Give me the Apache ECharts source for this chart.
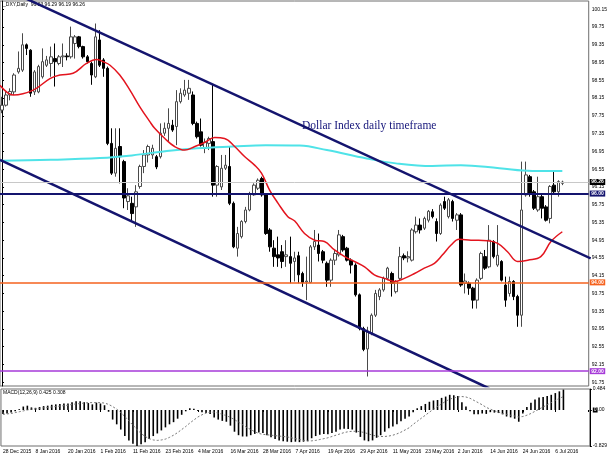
<!DOCTYPE html>
<html><head><meta charset="utf-8">
<script src="https://cdn.jsdelivr.net/npm/echarts@6/dist/echarts.min.js"></script>
<style>html,body{margin:0;padding:0;background:#fff}#c{width:610px;height:457px}</style>
</head><body><div id="c"></div>
<script>
// trading days shown on the chart
const monthDays = [
  ['Dec 2015', [28,29,30,31]],
  ['Jan 2016', [4,5,6,7,8,11,12,13,14,15,18,19,20,21,22,25,26,27,28,29]],
  ['Feb 2016', [1,2,3,4,5,8,9,10,11,12,15,16,17,18,19,22,23,24,25,26,29]],
  ['Mar 2016', [1,2,3,4,7,8,9,10,11,14,15,16,17,18,21,22,23,24,25,28,29,30,31]],
  ['Apr 2016', [1,4,5,6,7,8,11,12,13,14,15,18,19,20,21,22,25,26,27,28,29]],
  ['May 2016', [2,3,4,5,6,9,10,11,12,13,16,17,18,19,20,23,24,25,26,27,30,31]],
  ['Jun 2016', [1,2,3,6,7,8,9,10,13,14,15,16,17,20,21,22,23,24,27,28,29,30]],
  ['Jul 2016', [1,4,5,6,7,8]]
];
const emptySlots = 6; // right-hand chart shift

const open = [97.88,97.99,98.22,98.29,98.74,98.78,99.35,99.23,98.29,98.29,
98.63,98.89,98.93,99.04,98.93,99.08,99.10,99.08,99.38,99.53,
99.31,99.08,98.93,98.63,99.46,99.01,98.82,97.13,96.46,97.06,
96.72,95.82,95.78,95.70,96.16,96.61,96.87,96.87,96.83,96.83,
97.36,97.47,97.54,97.51,98.07,98.22,98.26,98.22,97.58,97.39,
97.02,97.13,97.17,96.19,96.15,96.57,96.61,95.78,94.77,95.03,
95.37,95.63,95.97,96.12,96.34,95.97,95.18,94.77,94.62,94.69,
94.58,94.58,94.47,94.60,94.20,94.01,94.00,94.80,94.84,94.69,
94.43,94.05,94.50,94.62,95.03,94.77,94.50,94.39,93.72,92.96,
92.50,92.85,93.26,93.68,93.83,94.09,94.20,93.79,94.09,94.60,
94.55,94.50,95.14,95.29,95.22,95.40,95.59,95.37,95.10,95.82,
95.48,95.82,95.40,95.52,93.98,93.98,93.87,93.60,94.09,94.58,
94.35,94.92,94.39,94.47,93.94,93.75,94.02,93.68,93.26,95.97,
96.38,96.04,95.63,95.93,95.70,95.44,96.19,96.04,96.23];
const high = [98.18,98.30,98.37,98.71,99.20,99.61,99.38,99.25,98.78,98.90,
99.27,99.10,99.31,99.38,99.12,99.38,99.16,99.76,99.57,99.55,
99.33,99.12,98.97,99.83,99.68,99.05,98.86,97.47,97.47,97.47,
96.76,96.12,95.93,96.19,96.65,96.98,97.10,97.10,96.87,97.58,
97.60,97.92,97.66,98.33,98.37,98.56,98.56,98.30,97.62,97.69,
97.24,97.28,98.45,96.64,96.87,96.87,97.06,95.82,95.25,95.40,
95.70,96.04,96.23,96.34,96.38,96.00,95.22,94.95,95.03,94.84,
94.95,95.03,94.69,94.69,94.24,94.58,94.84,95.18,95.10,94.73,
94.47,94.54,94.73,95.18,95.07,94.80,94.54,94.43,93.75,93.00,
93.00,93.30,93.83,93.87,94.13,94.35,94.24,94.05,94.80,94.65,
94.70,95.22,95.48,95.44,95.48,95.63,95.65,95.44,95.78,95.93,
95.90,95.86,95.56,95.56,94.20,94.02,93.90,94.09,94.69,94.73,
95.29,94.95,95.29,94.50,94.13,94.13,94.05,93.72,96.72,96.72,
96.42,96.08,96.38,96.00,95.74,96.19,96.49,96.30,96.29];
const low = [97.81,97.96,98.10,98.22,98.70,98.74,99.12,98.18,98.22,98.26,
98.59,98.85,98.63,98.41,98.89,98.85,99.00,99.04,99.04,99.27,
99.04,98.93,98.45,98.60,98.85,98.63,97.09,96.42,96.38,96.23,
95.67,95.63,95.40,95.25,96.11,96.46,96.70,96.78,96.55,96.79,
97.30,97.17,97.39,97.09,98.03,98.18,98.11,97.54,97.24,97.06,
96.91,96.98,95.93,95.93,96.08,96.53,95.74,94.77,94.58,94.99,
95.33,95.60,95.95,96.08,95.93,95.07,94.69,94.35,94.35,94.32,
94.35,93.98,94.02,93.98,93.90,93.60,93.98,94.73,94.47,94.43,
93.90,93.90,94.39,94.58,94.69,94.47,94.20,93.68,92.92,92.45,
91.88,92.81,93.22,93.60,93.79,94.05,93.68,93.75,94.05,94.50,
94.45,94.47,95.10,95.10,95.18,95.35,95.44,94.92,95.07,95.63,
95.44,95.37,95.18,93.90,93.75,93.72,93.41,93.41,94.05,94.28,
94.32,94.54,94.35,94.02,93.45,93.68,93.60,93.00,93.00,95.93,
95.93,95.63,95.59,95.44,95.37,95.33,96.00,95.93,96.19];
const close = [97.99,98.22,98.30,98.67,98.82,99.35,99.27,98.26,98.74,98.86,
98.97,99.01,99.08,98.97,99.08,99.10,99.08,99.53,99.53,99.31,
99.08,98.97,98.67,99.53,98.89,98.82,97.13,96.46,97.02,96.83,
95.90,95.95,95.55,96.04,96.61,96.87,97.06,97.02,96.60,97.36,
97.47,97.58,97.43,98.07,98.26,98.33,98.37,97.58,97.28,97.09,
97.16,97.24,96.19,96.61,96.57,96.64,95.78,94.80,95.10,95.37,
95.63,96.00,96.19,96.30,95.97,95.10,94.80,94.58,94.55,94.47,
94.62,94.43,94.55,94.17,94.00,94.03,94.80,94.92,94.65,94.50,
94.05,94.50,94.65,95.07,94.73,94.50,94.39,93.72,92.96,92.49,
92.90,93.26,93.75,93.83,94.09,94.32,93.98,94.02,94.58,94.55,
94.58,95.18,95.29,95.18,95.44,95.60,95.48,95.10,95.74,95.67,
95.86,95.44,95.52,93.94,94.03,93.87,93.60,94.05,94.65,94.32,
94.95,94.58,94.61,94.05,93.60,94.02,93.68,93.26,95.63,96.42,
96.00,95.67,95.93,95.67,95.40,96.16,96.04,96.27,96.26];

// MACD main (histogram) and signal (dotted)
const macdMain = [-0.09,-0.08,-0.06,-0.03,0.02,0.08,0.10,0.06,0.05,0.07,
0.09,0.10,0.12,0.13,0.14,0.15,0.15,0.18,0.20,0.20,
0.18,0.16,0.13,0.17,0.15,0.11,-0.04,-0.22,-0.33,-0.45,
-0.60,-0.70,-0.78,-0.829,-0.79,-0.74,-0.67,-0.60,-0.54,-0.47,
-0.40,-0.33,-0.28,-0.20,-0.11,-0.03,0.04,0.03,-0.02,-0.05,
-0.07,-0.09,-0.17,-0.22,-0.25,-0.27,-0.36,-0.50,-0.58,-0.61,
-0.61,-0.58,-0.55,-0.52,-0.53,-0.58,-0.63,-0.67,-0.70,-0.72,
-0.73,-0.74,-0.73,-0.74,-0.73,-0.72,-0.65,-0.60,-0.57,-0.55,
-0.56,-0.53,-0.50,-0.45,-0.43,-0.44,-0.45,-0.52,-0.62,-0.70,
-0.72,-0.70,-0.64,-0.58,-0.50,-0.42,-0.38,-0.33,-0.26,-0.20,
-0.15,-0.05,0.04,0.09,0.14,0.19,0.22,0.23,0.28,0.31,
0.35,0.34,0.32,0.18,0.08,-0.03,-0.10,-0.10,-0.08,-0.09,
-0.05,-0.06,-0.07,-0.10,-0.15,-0.17,-0.20,-0.27,-0.08,0.07,
0.17,0.24,0.29,0.30,0.32,0.35,0.39,0.43,0.47];
const macdSignal = [-0.10,-0.09,-0.08,-0.06,-0.04,-0.02,0.00,0.02,0.03,0.04,
0.05,0.06,0.07,0.08,0.09,0.10,0.11,0.13,0.14,0.15,
0.16,0.17,0.17,0.17,0.17,0.16,0.13,0.08,0.02,-0.06,
-0.15,-0.25,-0.35,-0.45,-0.54,-0.61,-0.66,-0.69,-0.70,-0.69,
-0.67,-0.63,-0.58,-0.52,-0.45,-0.38,-0.30,-0.23,-0.16,-0.11,
-0.07,-0.05,-0.05,-0.07,-0.10,-0.13,-0.17,-0.22,-0.28,-0.34,
-0.40,-0.45,-0.50,-0.54,-0.56,-0.57,-0.58,-0.59,-0.60,-0.61,
-0.62,-0.64,-0.66,-0.68,-0.70,-0.71,-0.71,-0.70,-0.68,-0.66,
-0.64,-0.61,-0.58,-0.55,-0.52,-0.50,-0.49,-0.49,-0.50,-0.52,
-0.55,-0.58,-0.60,-0.61,-0.61,-0.60,-0.58,-0.55,-0.51,-0.46,
-0.41,-0.33,-0.26,-0.19,-0.12,-0.05,0.02,0.08,0.14,0.20,
0.25,0.28,0.30,0.31,0.30,0.27,0.22,0.17,0.12,0.06,
0.02,-0.02,-0.05,-0.08,-0.10,-0.12,-0.14,-0.16,-0.15,-0.12,
-0.08,-0.03,0.02,0.07,0.12,0.17,0.22,0.27,0.308];

// moving averages: [bar index, price]
const maRed = [[-0.5,98.44],[2.8,98.22],[7.7,98.33],[11.8,98.59],[14.3,98.67],[17.5,98.71],[20.8,98.93],[23.3,99.02],[24.9,98.97],[26.6,98.89],[29,98.67],[31.5,98.33],[33.9,97.96],[36.4,97.62],[37.6,97.47],[40.1,97.24],[42.5,97.06],[45,96.98],[47.5,97.06],[49.9,97.15],[52.4,97.26],[54.8,97.24],[57.3,97.06],[59.8,96.83],[62.2,96.64],[63.9,96.46],[65.9,96.08],[68,95.78],[70.4,95.48],[72.1,95.38],[74.5,95.10],[77,94.95],[79.4,94.92],[81.9,94.73],[84.4,94.58],[86.8,94.47],[89.3,94.35],[91.7,94.17],[94.2,94.09],[96.7,94.02],[99.1,94.09],[101.6,94.20],[104,94.32],[106.5,94.43],[108.5,94.62],[110.6,94.84],[112.6,94.97],[115.5,94.95],[119.6,94.94],[122.1,94.88],[124.5,94.69],[127,94.47],[129.5,94.50],[132.7,94.58],[135.2,94.92],[138,95.14]];
const maCyan = [[-0.5,96.74],[12,96.76],[24.1,96.80],[32,96.86],[40.6,96.96],[48,97.02],[56.8,97.06],[65,97.09],[73.3,97.08],[80,96.98],[89.8,96.79],[97,96.68],[106,96.62],[113,96.64],[122.5,96.57],[130.6,96.51],[138,96.51]];

// channel lines: [bar index, price]
const channelUpper = [[0,100.64],[145,94.54]];
const channelLower = [[-0.5,96.76],[120,91.61]];

const levelNavy = 96.00, levelOrange = 94.00, levelPurple = 92.00, bidPrice = 96.26;
const priceTicks = [100.15,99.75,99.35,98.95,98.55,98.15,97.75,97.35,96.95,96.55,96.15,95.75,95.35,94.95,94.55,94.15,93.75,93.35,92.95,92.55,92.15,91.75];
const macdTicks = [0.484, 0, -0.829];

const categories = [];
monthDays.forEach(([m, days]) => days.forEach(d => categories.push(d + ' ' + m)));
for (let k = 0; k < emptySlots; k++) categories.push('');
const candles = open.map((o, i) => [o, close[i], low[i], high[i]]);
const N = categories.length;

const FONT = 'Liberation Sans';
const small = { fontFamily: FONT, fontSize: 5, color: '#000' };

function levelLine(v, color, width, boxColor) {
  return {
    yAxis: v,
    lineStyle: { color: color, width: width, type: 'solid' },
    label: { show: true, position: 'end', distance: 1, formatter: v.toFixed(2),
      color: '#fff', backgroundColor: boxColor, padding: [1, 1.5, 0, 1.5],
      fontFamily: FONT, fontSize: 5, fontWeight: 'bold' }
  };
}

const chart = echarts.init(document.getElementById('c'), null, { renderer: 'canvas' });
chart.setOption({
  animation: false,
  backgroundColor: '#fff',
  grid: [
    { left: 0, right: 19, top: 1, height: 385, show: true, borderColor: '#6e6e6e', borderWidth: 1 },
    { left: 0, right: 19, top: 389, height: 57, show: true, borderColor: '#6e6e6e', borderWidth: 1 }
  ],
  xAxis: [
    { type: 'category', gridIndex: 0, data: categories, boundaryGap: true, show: false },
    { type: 'value', gridIndex: 0, min: -0.5, max: N - 0.5, show: false },
    { type: 'category', gridIndex: 1, data: categories, boundaryGap: true,
      axisLine: { show: false },
      axisTick: { show: true, alignWithLabel: true, length: 2, interval: i => i % 8 === 0, lineStyle: { color: '#000' } },
      axisLabel: Object.assign({ interval: i => i % 8 === 0, align: 'left', margin: 3 }, small) }
  ],
  yAxis: [
    { type: 'value', gridIndex: 0, position: 'right', min: 91.666, max: 100.337,
      splitLine: { show: false },
      axisLine: { show: true, lineStyle: { color: '#000', width: 1 } },
      axisTick: { show: true, length: 2, customValues: priceTicks, lineStyle: { color: '#000' } },
      axisLabel: Object.assign({ customValues: priceTicks, margin: 3, formatter: v => v.toFixed(2) }, small) },
    { type: 'value', gridIndex: 1, position: 'right', min: -0.829, max: 0.484,
      splitLine: { show: false },
      axisLine: { show: true, lineStyle: { color: '#000', width: 1 } },
      axisTick: { show: true, length: 2, customValues: macdTicks, lineStyle: { color: '#000' } },
      axisLabel: Object.assign({ customValues: macdTicks, margin: 3,
        formatter: v => v === 0 ? '{b|0}{t|.00}' : String(v),
        rich: { b: { backgroundColor: '#000', color: '#fff', fontSize: 5, fontFamily: FONT, padding: [0, 1] },
                t: { color: '#000', fontSize: 5, fontFamily: FONT } } }, small) }
  ],
  graphic: [
    { type: 'text', left: 3, top: 2, style: { text: '_DXY,Daily  96.23 96.29 96.19 96.26', font: '5px "Liberation Sans"', fill: '#000' } },
    { type: 'text', left: 3, top: 390, style: { text: 'MACD(12,26,9) 0.425 0.308', font: '5px "Liberation Sans"', fill: '#000' } },
    { type: 'text', left: 302, top: 120, style: { text: 'Dollar Index daily timeframe', font: '11.5px "Liberation Serif"', fill: '#14147a' } }
  ],
  series: [
    { type: 'candlestick', xAxisIndex: 0, yAxisIndex: 0, data: candles, barWidth: 3,
      itemStyle: { color: '#ffffff', color0: '#000000', borderColor: '#4a4a4a', borderColor0: '#000000', borderWidth: 1 },
      markLine: { silent: true, symbol: 'none', animation: false,
        data: [
          levelLine(bidPrice, '#c8c8c8', 1, '#000'),
          levelLine(levelNavy, '#14146e', 2, '#14146e'),
          levelLine(levelOrange, '#f5621e', 1.5, '#f5621e'),
          levelLine(levelPurple, '#a63ad8', 1.5, '#a63ad8')
        ] } },
    { type: 'line', xAxisIndex: 1, yAxisIndex: 0, data: maCyan, smooth: 0.4, symbol: 'none',
      lineStyle: { color: '#4fe3e8', width: 2 } },
    { type: 'line', xAxisIndex: 1, yAxisIndex: 0, data: maRed, smooth: 0.4, symbol: 'none',
      lineStyle: { color: '#e3141e', width: 1.5 } },
    { type: 'line', xAxisIndex: 1, yAxisIndex: 0, data: channelUpper, symbol: 'none',
      lineStyle: { color: '#14146e', width: 2.5 } },
    { type: 'line', xAxisIndex: 1, yAxisIndex: 0, data: channelLower, symbol: 'none',
      lineStyle: { color: '#14146e', width: 2.5 } },
    { type: 'bar', xAxisIndex: 2, yAxisIndex: 1, data: macdMain, barWidth: 1.6,
      itemStyle: { color: '#000' } },
    { type: 'line', xAxisIndex: 2, yAxisIndex: 1, data: macdSignal, symbol: 'none',
      lineStyle: { color: '#777', width: 1, type: [2, 2] } }
  ]
});
</script>
</body></html>
